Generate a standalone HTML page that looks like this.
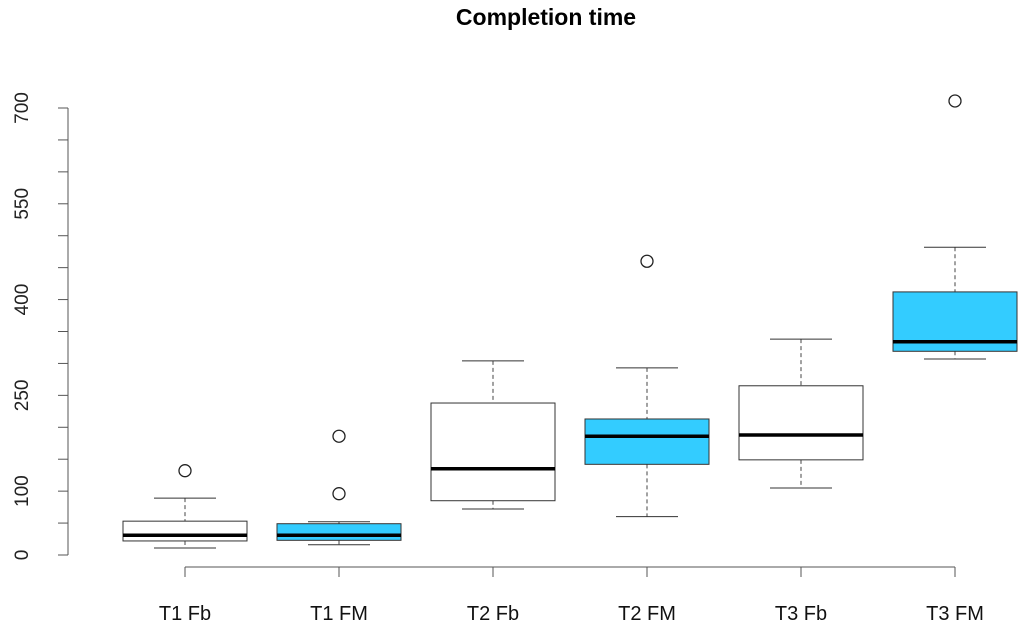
<!DOCTYPE html>
<html><head><meta charset="utf-8"><style>
body{margin:0;background:#fff;width:1024px;height:634px;overflow:hidden}
text{font-family:"Liberation Sans",Arial,sans-serif}
</style></head><body>
<svg id="c" width="1024" height="634" xmlns="http://www.w3.org/2000/svg">
<text x="546" y="25" text-anchor="middle" font-size="23" font-weight="bold">Completion time</text>
<g id="axes"></g><g id="boxes"></g>
</svg>
<script>
const categories=["T1 Fb","T1 FM","T2 Fb","T2 FM","T3 Fb","T3 FM"];
const lows=[11,16,72,60,105,307];
const q1s=[22,23,85,142,149,319];
const medians=[31,31,135,186,188,334];
const q3s=[53,49,238,213,265,412];
const highs=[89,52,304,293,338,482];
const outliers=[[132],[96,186],[],[460],[],[711]];
const fills=["#fff","#33ccff","#fff","#33ccff","#fff","#33ccff"];
const yTicks=[0,50,100,150,200,250,300,350,400,450,500,550,600,650,700];
const yLabels=[0,100,250,400,550,700];
const NS="http://www.w3.org/2000/svg";
const y=v=>555-v*447/700;
const x=i=>185+i*154;
const bw=124;
function mk(p,t,a){const e=document.createElementNS(NS,t);for(const k in a)e.setAttribute(k,a[k]);p.appendChild(e);return e;}
const ax=document.getElementById('axes'),bx=document.getElementById('boxes');
let l=mk(ax,'line',{x1:68,x2:68,y1:y(0),y2:y(700),stroke:'#555'});


yTicks.forEach(v=>{const t=mk(ax,'line',{x1:58,x2:68,y1:y(v),y2:y(v),stroke:'#555'});

});
yLabels.forEach(v=>{const t=mk(ax,'text',{x:0,y:0,transform:`translate(28,${y(v)}) rotate(-90)`,'text-anchor':'middle','font-size':19,fill:'#222'});t.textContent=v;

});
l=mk(ax,'line',{x1:x(0),x2:x(5),y1:567,y2:567,stroke:'#555'});


categories.forEach((c,i)=>{const t=mk(ax,'line',{x1:x(i),x2:x(i),y1:567,y2:577,stroke:'#555'});


const tx=mk(ax,'text',{x:x(i),y:620,'text-anchor':'middle','font-size':20,fill:'#111'});tx.textContent=c;


const g=mk(bx,'g',{});


const cx=x(i);
mk(g,'line',{x1:cx,x2:cx,y1:y(highs[i]),y2:y(q3s[i]),stroke:'#444','stroke-dasharray':'4,3'});
mk(g,'line',{x1:cx,x2:cx,y1:y(q1s[i]),y2:y(lows[i]),stroke:'#444','stroke-dasharray':'4,3'});
mk(g,'line',{x1:cx-31,x2:cx+31,y1:y(highs[i]),y2:y(highs[i]),stroke:'#333'});
mk(g,'line',{x1:cx-31,x2:cx+31,y1:y(lows[i]),y2:y(lows[i]),stroke:'#333'});
mk(g,'rect',{x:cx-bw/2,y:y(q3s[i]),width:bw,height:y(q1s[i])-y(q3s[i]),fill:fills[i],stroke:'#333'});
mk(g,'line',{x1:cx-bw/2,x2:cx+bw/2,y1:y(medians[i]),y2:y(medians[i]),stroke:'#000','stroke-width':3.5});
outliers[i].forEach(o=>{const p=mk(g,'circle',{cx:cx,cy:y(o),r:6,fill:'none',stroke:'#222','stroke-width':1.3});

});
});
</script>
</body></html>
